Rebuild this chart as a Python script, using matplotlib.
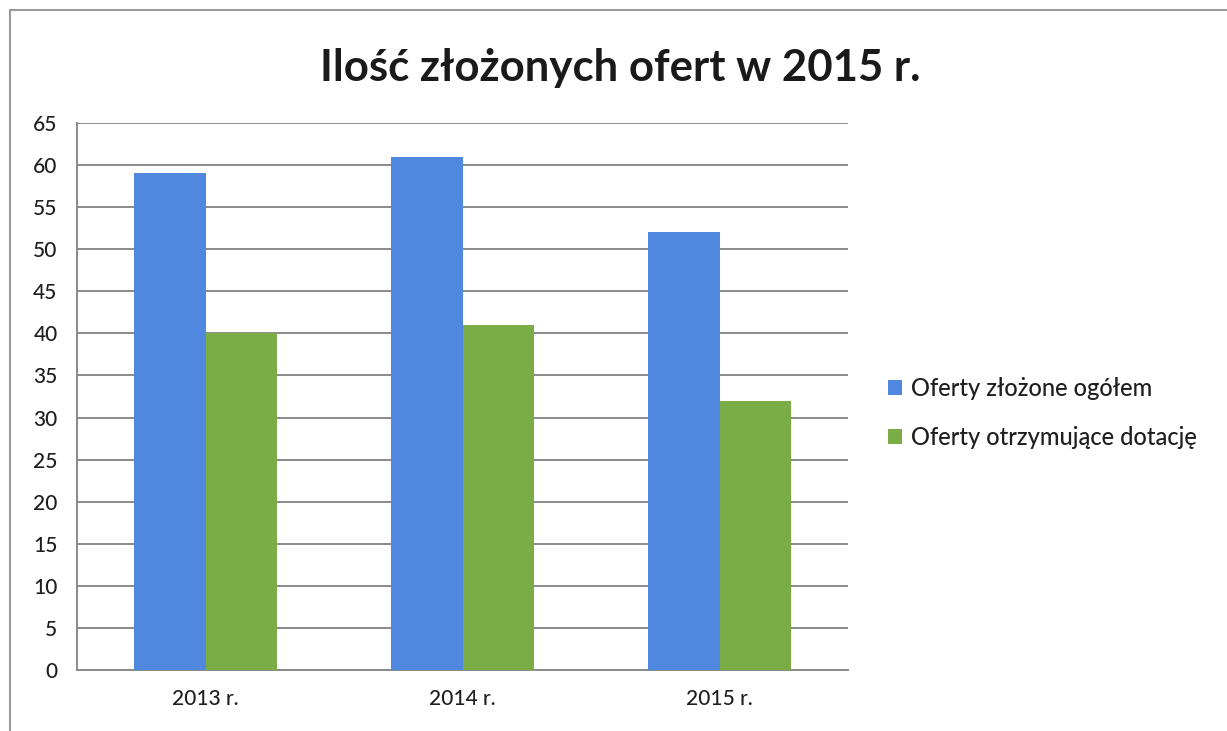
import matplotlib
matplotlib.use("Agg")
import matplotlib.pyplot as plt
import numpy as np
from matplotlib.patches import Rectangle

categories = ["2013 r.", "2014 r.", "2015 r."]
series_names = ["Oferty złożone ogółem", "Oferty otrzymujące dotację"]
total_offers = [59, 61, 52]
funded_offers = [40, 41, 32]
yticks = list(range(0, 70, 5))
title = "Ilość złożonych ofert w 2015 r."

blue = "#5088E0"
green = "#7BAD47"
grid_c = "#8a8a8a"
txt_c = "#1e1e1e"

plt.rcParams['font.family'] = ['Lato', 'DejaVu Sans']

fig = plt.figure(figsize=(12.27, 7.31), dpi=100)
fig.patch.set_facecolor("white")
# frame border
fig.add_artist(Rectangle((10/1227, -0.05), 1.1, 1 - 10/731 + 0.05, transform=fig.transFigure,
                         fill=False, edgecolor="#9a9a9a", linewidth=1.5))

ax = fig.add_axes([77/1227, 1 - 670/731, (848-77)/1227, (670-123)/731])
x = np.arange(len(categories))
w = 0.278
ax.bar(x - w/2, total_offers, w, color=blue, label=series_names[0], zorder=3)
ax.bar(x + w/2, funded_offers, w, color=green, label=series_names[1], zorder=3)

ax.set_xlim(-0.5, len(categories) - 0.5)
ax.set_ylim(0, 65)
ax.set_yticks(yticks)
ax.set_yticklabels([str(t) for t in yticks], fontsize=15, color=txt_c, fontweight="medium")
ax.set_xticks(x)
ax.set_xticklabels(categories, fontsize=15, color=txt_c, fontweight="medium")
ax.tick_params(axis='both', length=0)
ax.tick_params(axis='y', pad=14)
ax.tick_params(axis='x', pad=14)
ax.yaxis.grid(True, color=grid_c, linewidth=1.4, zorder=0)
ax.set_axisbelow(True)
for s in ["top", "right"]:
    ax.spines[s].set_visible(False)
for s in ["left", "bottom"]:
    ax.spines[s].set_color(grid_c)
    ax.spines[s].set_linewidth(1.4)

fig.text(620/1227, 1 - 68/731, title, ha="center", va="center", fontsize=31.5,
         fontweight="bold", color="#1a1a1a")

leg = ax.legend(loc="center left", bbox_to_anchor=(867/1227, 1 - 413/731),
                bbox_transform=fig.transFigure, frameon=False,
                prop={'size': 17, 'weight': 'medium'},
                handlelength=0.6, handleheight=0.6, handletextpad=0.35, labelspacing=1.1)
for t in leg.get_texts():
    t.set_color(txt_c)

fig.savefig("out.png", dpi=100)
